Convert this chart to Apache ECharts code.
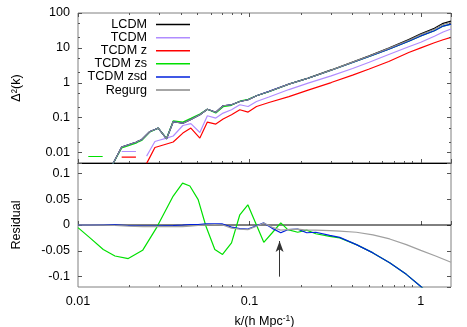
<!doctype html>
<html>
<head>
<meta charset="UTF-8">
<title>Δ²(k) and residual</title>
<script src="https://cdn.jsdelivr.net/npm/echarts@6/dist/echarts.min.js"></script>
<style>
  html, body { margin: 0; padding: 0; background: #fff; }
  #main { width: 467px; height: 327px; }
</style>
</head>
<body>
<div id="main"></div>
<script>
// k grid of the upper panel (h/Mpc)
var kTop = [0.01148, 0.01393, 0.01476, 0.01578, 0.01798, 0.02178, 0.02267, 0.0235, 0.02514, 0.02628,
            0.0281, 0.02938, 0.03287, 0.03592, 0.04091, 0.04555, 0.0514, 0.05685, 0.06368, 0.07025,
            0.07864, 0.0879, 0.0983, 0.11, 0.13, 0.17, 0.22, 0.3, 0.4, 0.5,
            0.65, 0.85, 1.0, 1.2, 1.35, 1.5];

// Δ²(k) per model, null = no point
var lcdm   = [null, null, null, 0.00418, 0.01438, 0.01963, 0.02168, 0.02314, 0.03221, 0.04006,
              0.04571, 0.05012, 0.02472, 0.07602, 0.06884, 0.0885, 0.1207, 0.1737, 0.1424, 0.2188,
              0.2337, 0.2906, 0.3251, 0.4236, 0.563, 0.918, 1.36, 2.33, 3.95, 5.95,
              9.95, 17.2, 25.2, 36.3, 50.5, 58.5];
var tcdm   = [null, null, null, null, 0.01068, 0.01068, null, null, 0.00788, 0.01156,
              0.0207, 0.02209, 0.02589, 0.02975, 0.05952, 0.06751, 0.03749, 0.113, 0.097, 0.1351,
              0.168, 0.2337, 0.2089, 0.2906, 0.389, 0.638, 0.974, 1.578, 2.556, 3.873,
              6.446, 10.79, 14.52, 21.6, 28.5, 34.7];
var tcdmZ  = [null, null, null, null, 0.00738, 0.00738, null, null, 0.00487, 0.00738,
              0.0139, 0.01486, 0.01754, 0.02001, 0.03602, 0.0501, 0.02589, 0.0745, 0.0653, 0.0909,
              0.1207, 0.168, 0.1443, 0.2089, 0.272, 0.399, 0.6134, 1.013, 1.652, 2.472,
              4.084, 7.357, 9.97, 14.06, 17.1, 19.95];
var tcdmZs = [0.00767, 0.00767, null, 0.00418, 0.01345, 0.01855, 0.02055, 0.022, 0.0309, 0.0389,
              0.045, 0.05, 0.0255, 0.0804, 0.0745, 0.0951, 0.126, 0.174, 0.1356, 0.206,
              0.2255, 0.296, 0.337, 0.425, 0.552, 0.909, 1.342, 2.28, 3.81, 5.65,
              9.23, 15.5, 22.0, 31.0, 42.2, 48.0];
var tcdmZsd = [null, null, null, 0.00418, 0.01438, 0.01963, 0.02168, 0.02314, 0.03221, 0.04006,
              0.04571, 0.05012, 0.02472, 0.07602, 0.06884, 0.0885, 0.1207, 0.1737, 0.1424, 0.2188,
              0.2337, 0.2906, 0.3251, 0.4236, 0.565, 0.91, 1.344, 2.28, 3.81, 5.65,
              9.23, 15.5, 22.0, 31.0, 42.2, 48.0];
var regurg = [null, null, null, 0.00418, 0.01438, 0.01963, 0.02168, 0.02314, 0.03221, 0.04006,
              0.04571, 0.05012, 0.02472, 0.07602, 0.06884, 0.0885, 0.1207, 0.1737, 0.1424, 0.2188,
              0.2337, 0.2906, 0.3251, 0.4236, 0.563, 0.912, 1.345, 2.30, 3.89, 5.83,
              9.70, 16.6, 24.0, 34.1, 46.8, 54.4];

// residual panel
var kRes = [0.01, 0.01175, 0.01404, 0.01643, 0.01964, 0.02382, 0.02886, 0.03592, 0.04075, 0.04495,
            0.05024, 0.05571, 0.06285, 0.06969, 0.07864, 0.0879, 0.0979, 0.109, 0.1213, 0.1351,
            0.1524, 0.1674, 0.1914, 0.216, 0.2438, 0.294, 0.3364, 0.4209, 0.5259, 0.658,
            0.823, 1.0, 1.22, 1.5];
var resZs  = [-0.005, -0.025, -0.0475, -0.06, -0.065, -0.049, -0.004, 0.056, 0.081, 0.0756,
              0.049, -0.002, -0.0475, -0.057, -0.0346, 0.0198, 0.039, 0.0027, -0.0335, -0.016,
              0.004, -0.009, -0.014, -0.01, -0.017, -0.022, -0.025, -0.038, -0.054, -0.073,
              -0.0955, -0.119, -0.145, -0.175];
var resZsd = [0, 0, 0.0005, 0.0005, -0.001, -0.002, -0.002, -0.001, 0, 0.001,
              0.001, 0.002, 0.002, 0.002, -0.004, -0.007, -0.008, -0.002, 0.004, -0.006,
              -0.015, -0.009, -0.008, -0.015, -0.014, -0.02, -0.024, -0.038, -0.054, -0.073,
              -0.0955, -0.119, -0.145, -0.175];
var resRegurg = [0, 0, 0, -0.001, -0.002, -0.003, -0.003, -0.003, -0.003, -0.002,
              -0.001, 0, 0.001, 0, -0.006, -0.008, -0.009, -0.003, 0.004, -0.004,
              -0.01, -0.009, -0.008, -0.01, -0.01, -0.011, -0.012, -0.014, -0.019, -0.027,
              -0.038, -0.049, -0.06, -0.072];
var kZero = [0.01, 1.5];
var resLcdm = [0, 0];

// arrow in the residual panel
var arrowK = 0.15, arrowFrom = -0.1, arrowTo = -0.031;

// minor tick values
var xMinor = [0.02, 0.03, 0.04, 0.05, 0.06, 0.07, 0.08, 0.09, 0.2, 0.3, 0.4, 0.5, 0.6, 0.7, 0.8, 0.9];
var yMinorTop = [0.02, 0.05, 0.2, 0.5, 2, 5, 20, 50];

var FONT = 'Liberation Sans, Arial, sans-serif';
var FS = 12.6;
var TICK = '#555';
var LW = 1.2;

function pairs(ks, vs) {
    return ks.map(function (k, i) { return [k, vs[i] == null ? '-' : vs[i]]; });
}
function decadeLabel(v) {
    var e = Math.log10(v);
    var r = Math.round(e);
    if (Math.abs(e - r) > 1e-6) return '';
    return r >= 0 ? String(Math.pow(10, r)) : Math.pow(10, r).toFixed(-r);
}
function resLabel(v) {
    if (Math.abs(v) > 0.11) return '';
    return String(+v.toFixed(2));
}

var tickCfg = { show: true, inside: true, length: 4, lineStyle: { color: TICK, width: 1 } };
var noLine = { show: false };

var chart = echarts.init(document.getElementById('main'), null, { renderer: 'canvas' });

function topLine(name, data, color) {
    return { name: name, type: 'line', xAxisIndex: 0, yAxisIndex: 0, data: pairs(kTop, data),
             symbol: 'none', lineStyle: { color: color, width: LW }, itemStyle: { color: color } };
}
function resLine(name, ks, data, color) {
    return { name: name, type: 'line', xAxisIndex: 2, yAxisIndex: 2, data: pairs(ks, data),
             symbol: 'none', lineStyle: { color: color, width: LW }, itemStyle: { color: color } };
}

var option = {
    animation: false,
    backgroundColor: '#fff',
    textStyle: { fontFamily: FONT },
    grid: [
        { left: 78, top: 13, width: 373, height: 150, show: true, borderColor: '#808080', borderWidth: 1,
          backgroundColor: 'transparent', containLabel: false, outerBoundsMode: 'none' },
        { left: 78, top: 163, width: 373, height: 124, show: true, borderColor: '#808080', borderWidth: 1,
          backgroundColor: 'transparent', containLabel: false, outerBoundsMode: 'none' }
    ],
    legend: {
        orient: 'vertical', align: 'right', right: 277, top: 18, padding: 0,
        icon: 'rect', itemWidth: 34, itemHeight: 1.5, itemGap: 0,
        textStyle: { fontFamily: FONT, fontSize: FS, color: '#000', lineHeight: 13.1, padding: [0, 4, 0, 0] },
        data: ['LCDM', 'TCDM', 'TCDM z', 'TCDM zs', 'TCDM zsd', 'Regurg']
    },
    xAxis: [
        { gridIndex: 0, type: 'log', min: 0.01, max: 1.5, position: 'bottom',
          axisLine: { show: true, lineStyle: { color: '#000', width: 1 } },
          axisTick: tickCfg, axisLabel: { show: false }, splitLine: noLine },
        { gridIndex: 0, type: 'log', min: 0.01, max: 1.5, position: 'top',
          axisLine: noLine, axisTick: tickCfg, axisLabel: { show: false }, splitLine: noLine },
        { gridIndex: 1, type: 'log', min: 0.01, max: 1.5, position: 'bottom',
          axisLine: noLine, axisTick: tickCfg, splitLine: noLine,
          axisLabel: { fontFamily: FONT, fontSize: FS, color: '#000', margin: 8, formatter: decadeLabel },
          name: 'k/(h Mpc{sup|-1})', nameLocation: 'middle', nameGap: 27,
          nameTextStyle: { fontFamily: FONT, fontSize: FS, color: '#000',
                           rich: { sup: { fontFamily: FONT, fontSize: 8.5, color: '#000', padding: [0, 0, 7, 0] } } } }
    ],
    yAxis: [
        { gridIndex: 0, type: 'log', min: 0.005, max: 100, position: 'left',
          axisLine: noLine, axisTick: tickCfg, splitLine: noLine,
          axisLabel: { fontFamily: FONT, fontSize: FS, color: '#000', margin: 8, formatter: decadeLabel },
          name: 'Δ²(k)', nameLocation: 'middle', nameRotate: 90, nameGap: 55,
          nameTextStyle: { fontFamily: FONT, fontSize: FS, color: '#000' } },
        { gridIndex: 0, type: 'log', min: 0.005, max: 100, position: 'right',
          axisLine: noLine, axisTick: tickCfg, axisLabel: { show: false }, splitLine: noLine },
        { gridIndex: 1, type: 'value', min: -0.12, max: 0.12, position: 'left',
          axisLine: noLine, axisTick: tickCfg, splitLine: noLine,
          axisLabel: { fontFamily: FONT, fontSize: FS, color: '#000', margin: 8, formatter: resLabel,
                       showMinLabel: false, showMaxLabel: false },
          name: 'Residual', nameLocation: 'middle', nameRotate: 90, nameGap: 55,
          nameTextStyle: { fontFamily: FONT, fontSize: FS, color: '#000' } },
        { gridIndex: 1, type: 'value', min: -0.12, max: 0.12, position: 'right',
          axisLine: noLine, axisTick: tickCfg, axisLabel: { show: false }, splitLine: noLine }
    ],
    series: [
        topLine('LCDM', lcdm, '#000000'),
        topLine('TCDM', tcdm, '#b08cff'),
        topLine('TCDM z', tcdmZ, '#ff0000'),
        topLine('TCDM zs', tcdmZs, '#00e000'),
        topLine('TCDM zsd', tcdmZsd, '#0020dd'),
        topLine('Regurg', regurg, '#888888'),
        (function () {
            var s = resLine('LCDM', kZero, resLcdm, '#000000');
            s.lineStyle.width = 1;
            s.markLine = {
                silent: true, symbol: ['none', 'arrow'], symbolSize: [6, 11],
                lineStyle: { color: '#333', width: 1, type: 'solid' },
                label: { show: false },
                data: [[{ coord: [arrowK, arrowFrom] }, { coord: [arrowK, arrowTo] }]]
            };
            return s;
        })(),
        resLine('TCDM zs', kRes, resZs, '#00e000'),
        resLine('TCDM zsd', kRes, resZsd, '#0020dd'),
        resLine('Regurg', kRes, resRegurg, '#a0a0a0')
    ]
};
chart.setOption(option);

// minor ticks placed through the axes' own scales
function tick(x1, y1, x2, y2) {
    return { type: 'line', silent: true, z: 10,
             shape: { x1: x1, y1: y1, x2: x2, y2: y2 },
             style: { stroke: TICK, lineWidth: 1 } };
}
function crisp(v) { return Math.round(v - 0.5) + 0.5; }
var els = [];
var yTop = chart.convertToPixel({ yAxisIndex: 0 }, 100);
var yMid = chart.convertToPixel({ yAxisIndex: 0 }, 0.005);
var yBot = chart.convertToPixel({ yAxisIndex: 2 }, -0.12);
var xL = chart.convertToPixel({ xAxisIndex: 0 }, 0.01);
var xR = chart.convertToPixel({ xAxisIndex: 0 }, 1.5);
xMinor.forEach(function (v) {
    var x = crisp(chart.convertToPixel({ xAxisIndex: 0 }, v));
    els.push(tick(x, yTop, x, yTop + 2));
    els.push(tick(x, yMid, x, yMid - 2));
    els.push(tick(x, yBot, x, yBot - 2));
});
yMinorTop.forEach(function (v) {
    var y = crisp(chart.convertToPixel({ yAxisIndex: 0 }, v));
    els.push(tick(xL, y, xL + 2, y));
    els.push(tick(xR, y, xR - 2, y));
});
chart.setOption({ graphic: els });
</script>
</body>
</html>
